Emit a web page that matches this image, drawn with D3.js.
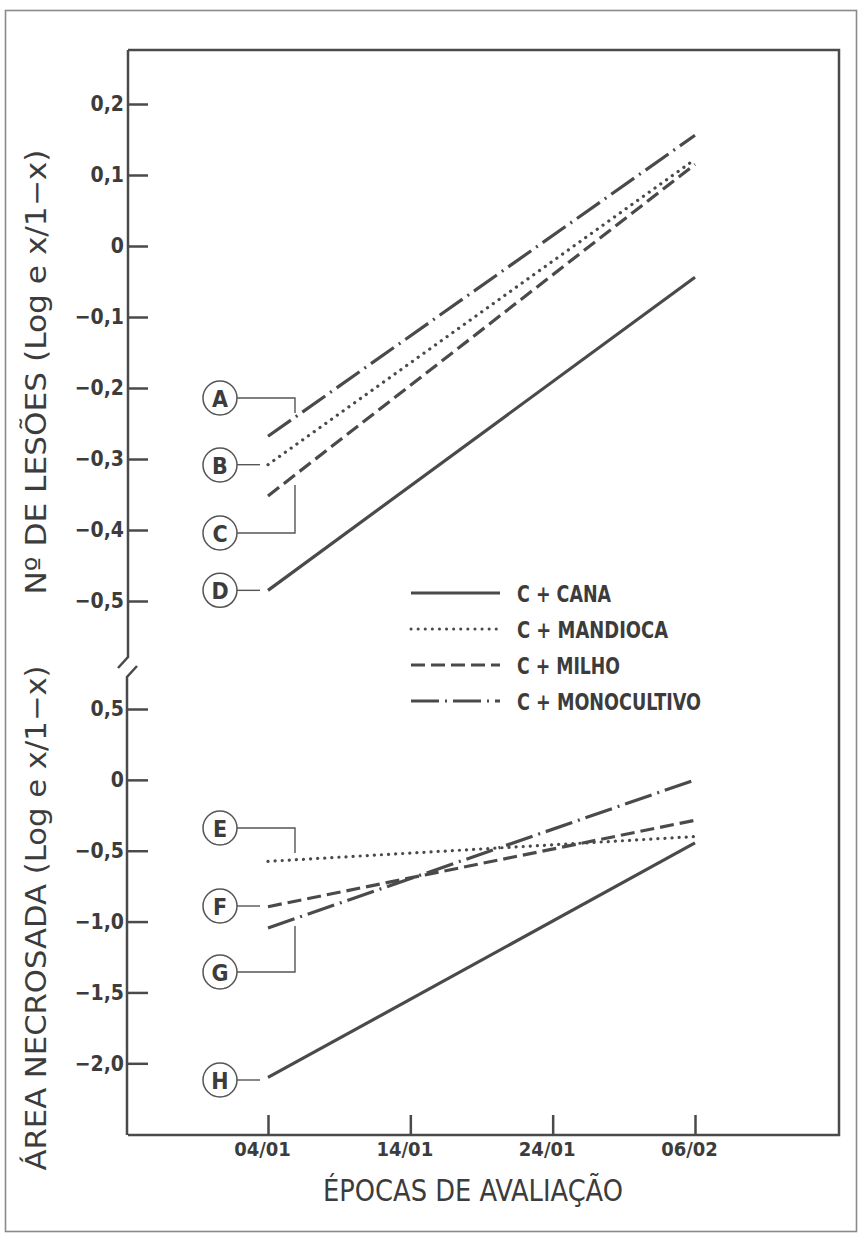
<!DOCTYPE html>
<html><head><meta charset="utf-8">
<script src="https://cdn.jsdelivr.net/npm/d3@7"></script>
<style>
body{margin:0;background:#fff}
text{font-family:"DejaVu Sans Condensed","DejaVu Sans",sans-serif;fill:#3c3c3c}
</style>
</head><body><svg id="c" width="858" height="1233"></svg>
<script>
// ---- data ----
const dates = ["04/01","14/01","24/01","06/02"];
const endDates = ["04/01","06/02"];
const seriesNames = ["C + CANA","C + MANDIOCA","C + MILHO","C + MONOCULTIVO"];
const lesoesCana        = [-0.485, -0.044];
const lesoesMandioca    = [-0.308,  0.122];
const lesoesMilho       = [-0.352,  0.115];
const lesoesMonocultivo = [-0.268,  0.156];
const areaCana          = [-2.10, -0.445];
const areaMandioca      = [-0.575, -0.40];
const areaMilho         = [-0.895, -0.285];
const areaMonocultivo   = [-1.045,  0.00];
const lesoesTicks = [0.2, 0.1, 0, -0.1, -0.2, -0.3, -0.4, -0.5];
const areaTicks   = [0.5, 0, -0.5, -1.0, -1.5, -2.0];
const topLetters    = ["A","B","C","D"];   // monocultivo, mandioca, milho, cana
const bottomLetters = ["E","F","G","H"];   // mandioca, milho, monocultivo, cana

// ---- layout ----
const svg = d3.select("#c");
const ink = "#4a4a4a";
const L = 128, R = 839, T = 50, B = 1135;

const x = d3.scalePoint().domain(dates).range([268, 695]);
const yTop = d3.scaleLinear().domain([-0.5, 0.2]).range([601, 104]);
const yBot = d3.scaleLinear().domain([-2.0, 0.5]).range([1063.3, 709]);

const fmt = d => d === 0 ? "0" : d3.format(".1f")(d).replace(".", ",").replace("-", "\u2212");

// outer frame
svg.append("rect").attr("x",5.5).attr("y",10.5).attr("width",851).attr("height",1221)
  .attr("fill","none").attr("stroke","#8a8a8a").attr("stroke-width",1.6);

// inner box (top, right, bottom)
svg.append("path").attr("d",`M${L},${T}H${R}V${B}H${L}`)
  .attr("fill","none").attr("stroke",ink).attr("stroke-width",2.5);
// y axis with break
svg.append("path").attr("d",`M${L},${T}V657L118,668 M137,666L127,677V${B}`)
  .attr("fill","none").attr("stroke",ink).attr("stroke-width",2.5);

function styleAxis(g){
  g.select(".domain").remove();
  g.selectAll(".tick line").attr("stroke",ink).attr("stroke-width",2.5);
  g.selectAll(".tick text").attr("fill","#444").style("font-size","21px").style("font-weight","bold")
    .style("font-family",'"DejaVu Sans Condensed","DejaVu Sans",sans-serif');
}

svg.append("g").attr("transform",`translate(${L},0)`)
  .call(d3.axisLeft(yTop).tickValues(lesoesTicks).tickFormat(fmt).tickSizeInner(-20).tickSizeOuter(0).tickPadding(4))
  .call(styleAxis);
svg.append("g").attr("transform",`translate(${L},0)`)
  .call(d3.axisLeft(yBot).tickValues(areaTicks).tickFormat(fmt).tickSizeInner(-20).tickSizeOuter(0).tickPadding(4))
  .call(styleAxis);
const xg = svg.append("g").attr("transform",`translate(0,${B})`)
  .call(d3.axisBottom(x).tickSizeInner(-20).tickSizeOuter(0).tickPadding(7))
  .call(styleAxis);
xg.selectAll(".tick text").attr("dx",-6).style("font-size","20px");

// line styles per series index: cana, mandioca, milho, monocultivo
const dashes = [null, "0.1 7", "14 6", "28 6 2 6"];
const caps = ["butt","round","butt","butt"];

const line = yS => d3.line().x((d,i)=>x(endDates[i])).y(d=>yS(d));

function drawSeries(vals, yS){
  vals.forEach((v,k)=>{
    svg.append("path").datum(v).attr("d",line(yS))
      .attr("fill","none").attr("stroke",ink).attr("stroke-width",3.2)
      .attr("stroke-dasharray",dashes[k]).attr("stroke-linecap",caps[k]);
  });
}
drawSeries([lesoesCana,lesoesMandioca,lesoesMilho,lesoesMonocultivo], yTop);
drawSeries([areaCana,areaMandioca,areaMilho,areaMonocultivo], yBot);

// circled letters with connectors
const cx = 220, r = 17;
function marker(letter, cy, conn){
  svg.append("circle").attr("cx",cx).attr("cy",cy).attr("r",r)
    .attr("fill","#fff").attr("stroke","#555").attr("stroke-width",1.5);
  svg.append("text").attr("x",cx).attr("y",cy+1).attr("text-anchor","middle")
    .attr("dominant-baseline","central").style("font-size","23px").style("font-weight","bold")
    .attr("fill","#444").text(letter);
  svg.append("path").attr("d",conn).attr("fill","none").attr("stroke","#555").attr("stroke-width",1.4);
}
const xs = x("04/01");
marker(topLetters[0], 398, `M${cx+r},398H295V413`);
marker(topLetters[1], 465, `M${cx+r},${yTop(lesoesMandioca[0])}H${xs-8}`);
marker(topLetters[2], 533, `M${cx+r},533H295V485`);
marker(topLetters[3], yTop(lesoesCana[0]), `M${cx+r},${yTop(lesoesCana[0])}H${xs-8}`);
marker(bottomLetters[0], 828, `M${cx+r},828H295V853`);
marker(bottomLetters[1], 906, `M${cx+r},906H${xs-8}`);
marker(bottomLetters[2], 972, `M${cx+r},972H295V926`);
marker(bottomLetters[3], 1080, `M${cx+r},1080H${xs-8}`);

// legend
const legY = [593, 629, 665, 701];
const legW = [94, 151, 103, 184];
seriesNames.forEach((n,k)=>{
  svg.append("line").attr("x1",411).attr("x2",500).attr("y1",legY[k]).attr("y2",legY[k])
    .attr("stroke",ink).attr("stroke-width",3).attr("stroke-dasharray",dashes[k]).attr("stroke-linecap",caps[k]);
  svg.append("text").attr("x",517).attr("y",legY[k]+1).attr("dominant-baseline","central")
    .attr("textLength",legW[k]).attr("lengthAdjust","spacingAndGlyphs")
    .style("font-size","23px").style("font-weight","bold").attr("fill","#444").text(n);
});

// axis titles
svg.append("text").attr("transform","translate(36,372) rotate(-90)").attr("text-anchor","middle")
  .attr("dominant-baseline","central").attr("textLength",445).attr("lengthAdjust","spacingAndGlyphs")
  .style("font-size","28px").text("Nº DE LESÕES (Log e  x/1−x)");
svg.append("text").attr("transform","translate(36,918) rotate(-90)").attr("text-anchor","middle")
  .attr("dominant-baseline","central").attr("textLength",505).attr("lengthAdjust","spacingAndGlyphs")
  .style("font-size","28px").text("ÁREA NECROSADA (Log e  x/1−x)");
svg.append("text").attr("x",473).attr("y",1190).attr("text-anchor","middle")
  .attr("dominant-baseline","central").attr("textLength",300).attr("lengthAdjust","spacingAndGlyphs")
  .style("font-size","31px").text("ÉPOCAS DE AVALIAÇÃO");
</script>
</body></html>
